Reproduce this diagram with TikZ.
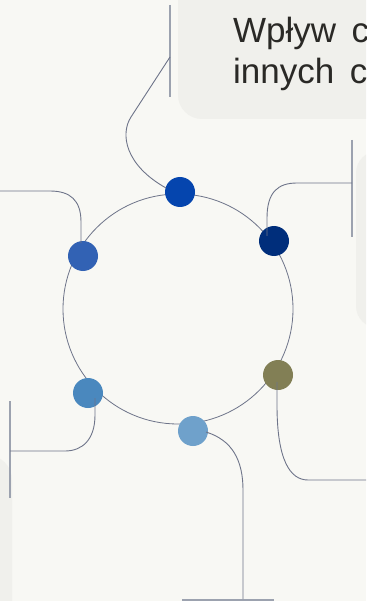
\documentclass[tikz,border=0pt]{standalone}
\usepackage{fontspec}
\setmainfont{Liberation Sans}
\usetikzlibrary{calc}
\definecolor{bgc}{HTML}{F8F8F4}
\definecolor{boxc}{HTML}{F0F0EC}
\definecolor{txtc}{HTML}{2A2926}
\definecolor{connc}{HTML}{6E7489}
\definecolor{capc}{HTML}{9CA2AF}
\definecolor{dA}{HTML}{0545AE}
\definecolor{dB}{HTML}{002E7B}
\definecolor{dC}{HTML}{3262B4}
\definecolor{dD}{HTML}{827F55}
\definecolor{dE}{HTML}{4A88BE}
\definecolor{dF}{HTML}{6FA1CB}
\newcommand{\mytitlefont}{\fontsize{35}{41}\selectfont\spaceskip=15.5pt\relax}
\begin{document}
\begin{tikzpicture}[x=1pt,y=-1pt,
  dot/.style={circle,minimum size=30pt,inner sep=0pt,draw=none},
  ring/.style={circle,draw=connc,line width=0.8pt,minimum size=230pt,inner sep=0pt},
  conn/.style={draw=connc,line width=0.9pt},
  capline/.style={draw=capc,line width=1.7pt},
  panel/.style={fill=boxc},
  label/.style={anchor=base west,inner sep=0pt,text=txtc,font=\mytitlefont}]
\useasboundingbox (0,0) rectangle (366,601);
\clip (0,0) rectangle (366,601);
\fill[bgc] (0,0) rectangle (366,601);
% panels
\fill[panel,rounded corners=24pt] (178,-40) rectangle (420,119);
\fill[panel,rounded corners=22pt] (356,151) rectangle (420,328);
\fill[panel,rounded corners=25pt] (-50,455) rectangle (12,640);
% title text
\node[label] (t1) at (233,43) {Wpływ c};
\node[label] (t2) at (233,84) {innych c};
% ring
\node[ring] (ring) at (178,309) {};
% dots
\node[dot,fill=dA] (d1) at (180,192) {};
\node[dot,fill=dB] (d2) at (274,241) {};
\node[dot,fill=dC] (d3) at (83,256) {};
\node[dot,fill=dD] (d4) at (278,375) {};
\node[dot,fill=dE] (d5) at (88,393) {};
\node[dot,fill=dF] (d6) at (193,431) {};
% cap lines
\coordinate (k1a) at (170,5);   \coordinate (k1b) at (170,97);   \coordinate (k1) at (170,57);
\coordinate (k2a) at (352,140); \coordinate (k2b) at (352,237);  \coordinate (k2) at (352,183);
\coordinate (k3) at (0,191);
\coordinate (k4) at (366,480);
\coordinate (k5a) at (10,401);  \coordinate (k5b) at (10,498);   \coordinate (k5) at (10,451);
\coordinate (k6a) at (182,600); \coordinate (k6b) at (274,600);  \coordinate (k6) at (243,599);
\draw[capline] (k1a) -- (k1b);
\draw[capline] (k2a) -- (k2b);
\draw[capline] (k5a) -- (k5b);
\draw[capline] (k6a) -- (k6b);
% connectors
\draw[conn] ($(d1)+(-14,-4)$) .. controls (125,165) and (120,134) .. (131,117) -- (k1);
\draw[conn] ($(d2)+(-7,-5)$) -- (267,218) .. controls (267,192) and (278,183) .. (297,183) -- (k2);
\draw[conn] ($(d3)+(-2,-13)$) -- (81,222) .. controls (81,200) and (70,191) .. (50,191) -- (k3);
\draw[conn] ($(d4)+(-1,7)$) -- (277,405) .. controls (277,460) and (290,480) .. (308,480) -- (k4);
\draw[conn] ($(d5)+(7,5)$) -- (95,415) .. controls (95,440) and (82,451) .. (65,451) -- (k5);
\draw[conn] ($(d6)+(13,1)$) .. controls (232,440) and (243,460) .. (243,490) -- (k6);
\end{tikzpicture}
\end{document}
